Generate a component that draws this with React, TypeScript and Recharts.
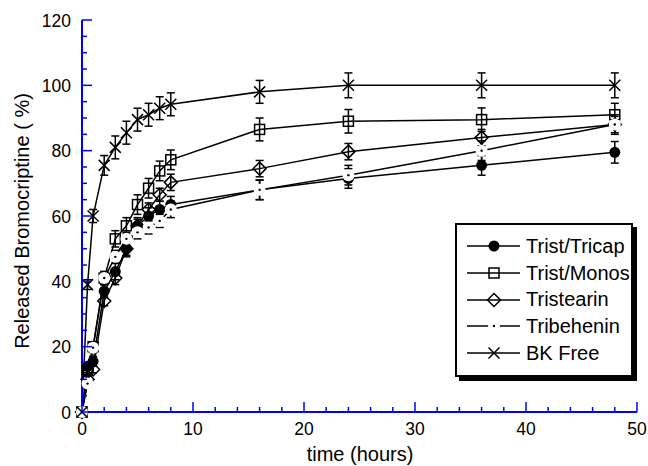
import React from "react";
import { ErrorBar, Legend, Line, LineChart, XAxis, YAxis } from "recharts";

const hours = [0, 0.5, 1, 2, 3, 4, 5, 6, 7, 8, 16, 24, 36, 48];

const tricap = [0, 14, 15.5, 37, 43, 50, 57, 60, 62, 63.5, 68, 71.5, 75.5, 79.5];
const tricapErr = [0, 1, 1.5, 2, 2.5, 2.5, 2.5, 2.5, 2.5, 2.5, 3, 3, 3, 3.3];
const monos = [0, 13, 20, 41, 53, 57, 63.5, 68.5, 73.8, 77.2, 86.5, 89, 89.5, 91];
const monosErr = [0, 1, 1.5, 2, 2.5, 2.5, 3, 3, 3, 3, 3.5, 3.6, 3.6, 3.5];
const tristearin = [0, 10, 13, 34, 41, 50, 57, 62, 66.5, 70.3, 74.5, 79.7, 84, 88];
const tristearinErr = [0, 1, 1, 1.5, 2, 2, 2, 2, 2, 2.5, 2.5, 2.5, 2.5, 2.5];
const tribehenin = [0, 8.7, 19.7, 41, 47.5, 53, 55, 56.5, 58.5, 62, 68, 72.5, 80, 88];
const tribeheninErr = [0, 1, 1.5, 2, 2, 2, 2, 2, 2, 2.5, 3, 3, 3, 3];
const bkFree = [0, 39, 60, 75.5, 81, 85.5, 89.5, 91, 93, 94.2, 98, 100, 100, 100];
const bkFreeErr = [0, 1.5, 2, 3, 3.5, 3.5, 3.5, 3.5, 3.5, 3.5, 3.5, 3.8, 3.8, 3.8];

const xTicks = [0, 2, 4, 6, 8, 10, 12, 14, 16, 18, 20, 22, 24, 26, 28, 30, 32, 34, 36, 38, 40, 42, 44, 46, 48, 50];
const yTicks = [0, 5, 10, 15, 20, 25, 30, 35, 40, 45, 50, 55, 60, 65, 70, 75, 80, 85, 90, 95, 100, 105, 110, 115, 120];

const data = hours.map((h, i) => ({
  h,
  tricap: tricap[i], tricapErr: tricapErr[i],
  monos: monos[i], monosErr: monosErr[i],
  tristearin: tristearin[i], tristearinErr: tristearinErr[i],
  tribehenin: tribehenin[i], tribeheninErr: tribeheninErr[i],
  bkFree: bkFree[i], bkFreeErr: bkFreeErr[i],
}));

const font = "'Liberation Sans', Arial, sans-serif";
const blue = "#0000ff";

function Marker({ kind, cx, cy }: { kind: string; cx: number; cy: number }) {
  if (cx == null || cy == null) return null;
  if (kind === "circle") return <circle cx={cx} cy={cy} r={5.5} fill="#000" />;
  if (kind === "square") return <rect x={cx - 5} y={cy - 5} width={10} height={10} fill="none" stroke="#000" strokeWidth={1.5} />;
  if (kind === "diamond") return <polygon points={`${cx},${cy - 6.5} ${cx + 6.5},${cy} ${cx},${cy + 6.5} ${cx - 6.5},${cy}`} fill="none" stroke="#000" strokeWidth={1.5} />;
  if (kind === "dot") return <g><circle cx={cx} cy={cy} r={6} fill="#fff" /><circle cx={cx} cy={cy} r={1.2} fill="#000" /></g>;
  return <path d={`M${cx - 5.5},${cy - 5.5}L${cx + 5.5},${cy + 5.5}M${cx - 5.5},${cy + 5.5}L${cx + 5.5},${cy - 5.5}`} stroke="#000" strokeWidth={1.5} />;
}

const series = [
  { key: "tricap", name: "Trist/Tricap", kind: "circle" },
  { key: "monos", name: "Trist/Monos", kind: "square" },
  { key: "tristearin", name: "Tristearin", kind: "diamond" },
  { key: "tribehenin", name: "Tribehenin", kind: "dot" },
  { key: "bkFree", name: "BK Free", kind: "cross" },
];

function YTick({ x, y, payload }: any) {
  const major = payload.value % 20 === 0;
  return (
    <g>
      <line x1={x} x2={x + (major ? 10 : 5)} y1={y} y2={y} stroke={blue} strokeWidth={1.5} />
      {major && <text x={x - 11} y={y + 6.5} textAnchor="end" fontFamily={font} fontSize={17.5} fill="#000">{payload.value}</text>}
    </g>
  );
}

function XTick({ x, y, payload }: any) {
  const major = payload.value % 10 === 0;
  return (
    <g>
      <line x1={x} x2={x} y1={y} y2={y - (major ? 10 : 5)} stroke={blue} strokeWidth={1.5} />
      {major && <text x={x} y={y + 23} textAnchor="middle" fontFamily={font} fontSize={17.5} fill="#000">{payload.value}</text>}
    </g>
  );
}

function LegendBox() {
  return (
    <div style={{ width: 178, height: 154, border: "2px solid #000", boxShadow: "4px 4px 0 #000", background: "#fff", boxSizing: "border-box", paddingTop: 8, fontFamily: font, fontSize: 20 }}>
      {series.map((s) => (
        <div key={s.key} style={{ height: 26.7, display: "flex", alignItems: "center" }}>
          <svg width={69} height={20} style={{ flex: "none" }}>
            <line x1={10} x2={63} y1={10} y2={10} stroke="#000" strokeWidth={1.5} />
            <Marker kind={s.kind} cx={37} cy={10} />
          </svg>
          <span style={{ whiteSpace: "nowrap" }}>{s.name}</span>
        </div>
      ))}
    </div>
  );
}

export default function App() {
  return (
    <div style={{ position: "absolute", left: 0, top: 0, background: "#fff" }}>
      <LineChart width={648} height={466} data={data} margin={{ top: 20, right: 11, bottom: 0, left: 0 }}>
        <XAxis dataKey="h" type="number" domain={[0, 50]} ticks={xTicks} interval={0} tickSize={0} tickMargin={0} height={54}
          axisLine={{ stroke: blue, strokeWidth: 2 }} tickLine={false} tick={<XTick />}
          label={{ content: () => <text x={360} y={461} textAnchor="middle" fontFamily={font} fontSize={20}>time (hours)</text> }} />
        <YAxis type="number" domain={[0, 120]} ticks={yTicks} interval={0} tickSize={0} tickMargin={0} width={82}
          axisLine={{ stroke: blue, strokeWidth: 2 }} tickLine={false} tick={<YTick />}
          label={{ content: () => <text x={29} y={221} transform="rotate(-90 29 221)" textAnchor="middle" fontFamily={font} fontSize={20}>Released Bromocriptine ( %)</text> }} />
        {series.map((s) => (
          <Line key={s.key} dataKey={s.key} name={s.name} type="linear" stroke="#000" strokeWidth={1.5} isAnimationActive={false}
            dot={(p: any) => <Marker key={`${s.key}-${p.index}`} kind={s.kind} cx={p.cx} cy={p.cy} />} activeDot={false}>
            <ErrorBar dataKey={`${s.key}Err`} width={4} stroke="#000" strokeWidth={1.5} direction="y" isAnimationActive={false} />
          </Line>
        ))}
        <Legend layout="vertical" align="center" verticalAlign="middle" content={<LegendBox />} wrapperStyle={{ left: 455, top: 223, width: 178 }} />
      </LineChart>
    </div>
  );
}
